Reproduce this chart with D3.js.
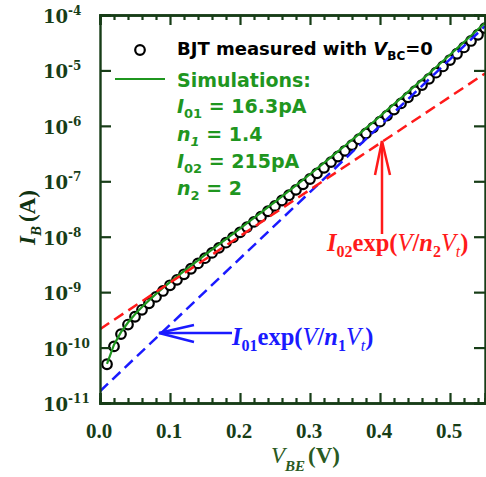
<!DOCTYPE html>
<html><head><meta charset="utf-8">
<script src="https://cdn.jsdelivr.net/npm/d3@7"></script>
<style>body{margin:0;background:#fff}svg{display:block}</style>
</head><body>
<svg id="c" width="486" height="477"></svg>
<script>
// V_BE (V) sample points
const vbe = [0.01,0.02,0.03,0.04,0.05,0.06,0.07,0.08,0.09,0.10,0.11,0.12,0.13,0.14,0.15,0.16,0.17,0.18,0.19,0.20,
  0.21,0.22,0.23,0.24,0.25,0.26,0.27,0.28,0.29,0.30,0.31,0.32,0.33,0.34,0.35,0.36,0.37,0.38,0.39,0.40,
  0.41,0.42,0.43,0.44,0.45,0.46,0.47,0.48,0.49,0.50,0.51,0.52,0.53,0.54,0.55];
// measured I_B (A)
const measured = [5.0e-11,1.05e-10,1.75e-10,2.6e-10,3.6e-10,4.8e-10,6.3e-10,8.2e-10,1.05e-9,1.33e-9,
  1.67e-9,2.1e-9,2.64e-9,3.3e-9,4.1e-9,5.1e-9,6.3e-9,7.8e-9,9.7e-9,1.2e-8,
  1.49e-8,1.85e-8,2.3e-8,2.88e-8,3.6e-8,4.5e-8,5.6e-8,7.0e-8,8.8e-8,1.1e-7,
  1.39e-7,1.75e-7,2.22e-7,2.8e-7,3.55e-7,4.5e-7,5.75e-7,7.3e-7,9.3e-7,1.19e-6,
  1.53e-6,1.97e-6,2.54e-6,3.27e-6,4.22e-6,5.45e-6,7.05e-6,9.1e-6,1.18e-5,1.54e-5,
  2.0e-5,2.6e-5,3.4e-5,4.4e-5,5.8e-5];
// simulation I_B (A)
const simulated = [5.09e-11,1.13e-10,1.90e-10,2.83e-10,3.98e-10,5.39e-10,7.11e-10,9.24e-10,1.19e-9,1.51e-9,
  1.90e-9,2.39e-9,3.00e-9,3.75e-9,4.68e-9,5.83e-9,7.26e-9,9.04e-9,1.13e-8,1.40e-8,
  1.75e-8,2.18e-8,2.73e-8,3.41e-8,4.27e-8,5.35e-8,6.72e-8,8.44e-8,1.06e-7,1.34e-7,
  1.69e-7,2.14e-7,2.72e-7,3.45e-7,4.38e-7,5.58e-7,7.12e-7,9.10e-7,1.16e-6,1.49e-6,
  1.92e-6,2.46e-6,3.17e-6,4.09e-6,5.28e-6,6.82e-6,8.82e-6,1.14e-5,1.48e-5,1.92e-5,
  2.50e-5,3.25e-5,4.23e-5,5.52e-5,7.19e-5];
// asymptote lines (endpoints)
const comp1V = [0, 0.55], comp1I = [1.63e-11, 6.3e-5];   // I01 exp(V/n1Vt)
const comp2V = [0, 0.55], comp2I = [2.15e-10, 8.8e-6];   // I02 exp(V/n2Vt)
const xMajor = [0, 0.1, 0.2, 0.3, 0.4, 0.5];
const xMinor = [0.02,0.04,0.06,0.08,0.12,0.14,0.16,0.18,0.22,0.24,0.26,0.28,0.32,0.34,0.36,0.38,0.42,0.44,0.46,0.48,0.52,0.54];
const xLabels = ["0.0","0.1","0.2","0.3","0.4","0.5"];
const yExp = [-4,-5,-6,-7,-8,-9,-10,-11];

const svg = d3.select("#c");
const L = 100, R = 485, T = 15, B = 403;
const x = d3.scaleLinear().domain([0, 0.55]).range([L, R]);
const y = d3.scaleLog().domain([1e-11, 1e-4]).range([B, T]);
const axisCol = "#173d17", green = "#1f961f";
const serif = "'Liberation Serif','Times New Roman',serif", wserif = "'DejaVu Serif',serif", sans = "'DejaVu Sans',Verdana,sans-serif";

svg.append("defs").append("clipPath").attr("id","clip").append("rect").attr("x",L).attr("y",T).attr("width",R-L).attr("height",B-T);
const plot = svg.append("g").attr("clip-path","url(#clip)");

// measured circles
plot.selectAll("circle.m").data(vbe).join("circle")
  .attr("cx", d => x(d)).attr("cy", (d,i) => y(measured[i])).attr("r", 4.8)
  .attr("fill","#fff").attr("stroke","#000").attr("stroke-width",2.2);

const line = d3.line().x(d => x(d[0])).y(d => y(d[1]));
plot.append("path").attr("d", line(vbe.map((v,i)=>[v, simulated[i]])))
  .attr("fill","none").attr("stroke", green).attr("stroke-width",2.2);
plot.append("path").attr("d", line(comp1V.map((v,i)=>[v, comp1I[i]])))
  .attr("fill","none").attr("stroke","#1a1aff").attr("stroke-width",2.5).attr("stroke-dasharray","11,6");
plot.append("path").attr("d", line(comp2V.map((v,i)=>[v, comp2I[i]])))
  .attr("fill","none").attr("stroke","#ff1a1a").attr("stroke-width",2.5).attr("stroke-dasharray","11,6");

// axes
const xb = svg.append("g").attr("transform",`translate(0,${B})`)
  .call(d3.axisBottom(x).tickValues(xMajor).tickSize(-10).tickFormat(""));
const xbm = svg.append("g").attr("transform",`translate(0,${B})`)
  .call(d3.axisBottom(x).tickValues(xMinor).tickSize(-5).tickFormat(""));
const xt = svg.append("g").attr("transform",`translate(0,${T})`)
  .call(d3.axisTop(x).tickValues(xMajor).tickSize(-10).tickFormat(""));
const xtm = svg.append("g").attr("transform",`translate(0,${T})`)
  .call(d3.axisTop(x).tickValues(xMinor).tickSize(-5).tickFormat(""));
const yl = svg.append("g").attr("transform",`translate(${L},0)`)
  .call(d3.axisLeft(y).tickValues(yExp.map(e=>Math.pow(10,e))).tickSize(-11).tickFormat(""));
const yr = svg.append("g").attr("transform",`translate(${R},0)`)
  .call(d3.axisRight(y).tickValues(yExp.map(e=>Math.pow(10,e))).tickSize(-11).tickFormat(""));
[xb,xbm,xt,xtm,yl,yr].forEach(g => {
  g.selectAll("path.domain").attr("stroke", axisCol).attr("stroke-width",2.4);
  g.selectAll(".tick line").attr("stroke", axisCol).attr("stroke-width",2.2);
});

// x tick labels
svg.selectAll("text.xl").data(xMajor).join("text")
  .attr("x", d => x(d) - 1).attr("y", 438).attr("text-anchor","middle")
  .attr("font-family", serif).attr("font-weight","bold").attr("font-size",21).attr("fill", axisCol)
  .text((d,i)=>xLabels[i]);

// y tick labels
yExp.forEach(e => {
  const t = svg.append("text").attr("x",43).attr("y", y(Math.pow(10,e)) + 8)
    .attr("font-family", wserif).attr("font-weight","bold").attr("font-size",18).attr("fill", axisCol);
  t.append("tspan").text("10");
  t.append("tspan").attr("dy",-8).attr("font-size",12).text(String(e));
});

// axis titles
const xtT = svg.append("text").attr("x",271).attr("y",463).attr("font-family",serif).attr("font-size",23).attr("fill","#2a5a22");
xtT.append("tspan").attr("font-style","italic").text("V");
xtT.append("tspan").attr("font-style","italic").attr("font-weight","bold").attr("font-size",15).attr("dy",8).text("BE");
xtT.append("tspan").attr("font-weight","bold").attr("dy",-8).attr("dx",3).text("(V)");

const ytT = svg.append("text").attr("transform","translate(35,245) rotate(-90)").attr("font-family",serif).attr("font-size",23).attr("font-weight","bold").attr("fill","#113311");
ytT.append("tspan").attr("font-style","italic").text("I");
ytT.append("tspan").attr("font-style","italic").attr("font-size",15).attr("dy",6).text("B");
ytT.append("tspan").attr("dy",-6).attr("dx",4).text("(A)");

// legend
svg.append("circle").attr("cx",140).attr("cy",50).attr("r",4.8).attr("fill","#fff").attr("stroke","#000").attr("stroke-width",2.2);
const l1 = svg.append("text").attr("x",177).attr("y",55).attr("font-family",sans).attr("font-weight","bold").attr("font-size",18).attr("fill","#000");
l1.append("tspan").text("BJT measured with ");
l1.append("tspan").attr("font-style","italic").text("V");
l1.append("tspan").attr("font-size",12).attr("dy",5).text("BC");
l1.append("tspan").attr("dy",-5).text("=0");

svg.append("line").attr("x1",115).attr("x2",165).attr("y1",79).attr("y2",79).attr("stroke",green).attr("stroke-width",2);
const gl = (yy, parts) => {
  const t = svg.append("text").attr("x",177).attr("y",yy).attr("font-family",sans).attr("font-weight","bold").attr("font-size",19).attr("fill",green);
  parts.forEach(p => {
    const s = t.append("tspan").text(p.t);
    if (p.i) s.attr("font-style","italic");
    if (p.sub) s.attr("font-size",13).attr("dy",5);
    if (p.up) s.attr("dy",-5);
  });
};
gl(87, [{t:"Simulations:"}]);
gl(113, [{t:"I",i:1},{t:"01",sub:1},{t:" = 16.3pA",up:1}]);
gl(141, [{t:"n",i:1},{t:"1",sub:1,i:1},{t:" = 1.4",up:1}]);
gl(168, [{t:"I",i:1},{t:"02",sub:1},{t:" = 215pA",up:1}]);
gl(195, [{t:"n",i:1},{t:"2",sub:1},{t:" = 2",up:1}]);

// annotations
const ann = (xx, yy, col, idx, nsub) => {
  const t = svg.append("text").attr("x",xx).attr("y",yy).attr("font-family",serif).attr("font-weight","bold").attr("font-size",24.5).attr("fill",col);
  t.append("tspan").attr("font-style","italic").text("I");
  t.append("tspan").attr("font-size",16).attr("dy",6).text(idx);
  t.append("tspan").attr("dy",-6).text("exp(");
  t.append("tspan").attr("font-style","italic").attr("font-weight","normal").text("V");
  t.append("tspan").text("/");
  t.append("tspan").attr("font-style","italic").text("n");
  t.append("tspan").attr("font-size",16).attr("dy",6).text(nsub);
  t.append("tspan").attr("font-style","italic").attr("font-weight","normal").attr("dy",-6).text("V");
  t.append("tspan").attr("font-style","italic").attr("font-weight","normal").attr("font-size",16).attr("dy",6).text("t");
  t.append("tspan").attr("dy",-6).text(")");
};
ann(327, 251, "#ff1a1a", "02", "2");
ann(232, 345, "#1a1aff", "01", "1");

// arrows
const red = "#ff1a1a", blue = "#1a1aff";
svg.append("line").attr("x1",382).attr("y1",234).attr("x2",382).attr("y2",141).attr("stroke",red).attr("stroke-width",2.5);
svg.append("path").attr("d","M375,175 L382,141 L390,175").attr("fill","none").attr("stroke",red).attr("stroke-width",2.5);
svg.append("line").attr("x1",232).attr("y1",333).attr("x2",159).attr("y2",333).attr("stroke",blue).attr("stroke-width",2.5);
svg.append("path").attr("d","M194,325 L159,333 L194,342").attr("fill","none").attr("stroke",blue).attr("stroke-width",2.5);
</script>
</body></html>
